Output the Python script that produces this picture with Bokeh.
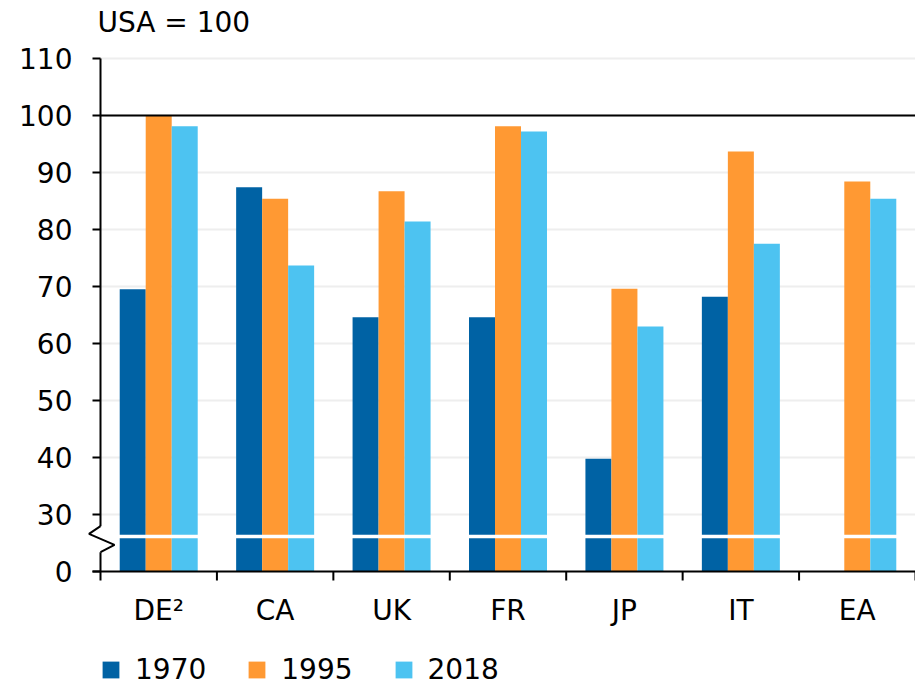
from bokeh.plotting import figure
from bokeh.models import Legend, LegendItem, ColumnDataSource, Range1d
from bokeh.transform import dodge
from bokeh.core.properties import value
from bokeh.embed import file_html
from bokeh.resources import INLINE

# ---- data ----
categories = ["DE²", "CA", "UK", "FR", "JP", "IT", "EA"]
v1970 = [69.5, 87.4, 64.6, 64.6, 39.8, 68.2, float("nan")]
v1995 = [100.0, 85.4, 86.7, 98.1, 69.6, 93.7, 88.4]
v2018 = [98.1, 73.7, 81.4, 97.2, 63.0, 77.5, 85.4]
series_names = ["1970", "1995", "2018"]
colors = ["#0062A4", "#FF9933", "#4DC3F1"]
tick_values = [0, 30, 40, 50, 60, 70, 80, 90, 100, 110]
title_text = "USA = 100"
reference_value = 100

# broken axis: 0 stays at 0, values >= 30 are shifted down by 20
BREAK_SHIFT = 20
def to_plot(v):
    return v if v == 0 else v - BREAK_SHIFT

FONT = "DejaVu Sans"
FS = "28px"

# ---- geometry (pixels -> data units) ----
W, H = 915, 688
AX_LEFT, AX_BOTTOM, AX_TOP = 100, 571, 58          # page px of axes
n = len(categories)
PX = (W - AX_LEFT) / n                               # px per category
PY = (AX_BOTTOM - AX_TOP) / to_plot(max(tick_values))  # px per y unit
def dx(px):
    return px / PX
def dy(px):
    return px / PY

p = figure(width=W, height=H,
           x_range=Range1d(-AX_LEFT / PX, n),
           y_range=Range1d(-(H - AX_BOTTOM) / PY, AX_BOTTOM / PY),
           output_backend="svg", toolbar_location=None,
           min_border=0, min_border_left=0, min_border_right=0,
           min_border_top=0, min_border_bottom=0)
p.axis.visible = False
p.grid.visible = False
p.outline_line_color = None
p.background_fill_color = "white"
p.border_fill_color = "white"

ypos = [to_plot(v) for v in tick_values]
ymax = max(ypos)

# grid lines (30..110)
p.segment(x0=0, x1=n, y0=ypos[1:], y1=ypos[1:], line_color="#EEEEEE", line_width=2)

# bars
src = ColumnDataSource(dict(
    x=[i + 0.5 for i in range(n)],
    y1970=[to_plot(v) for v in v1970],
    y1995=[to_plot(v) for v in v1995],
    y2018=[to_plot(v) for v in v2018],
))
bw = 26 / PX
offsets = [-bw, 0.0, bw]
renderers = []
for name, col, off in zip(series_names, colors, offsets):
    r = p.vbar(x=dodge("x", off), top="y" + name, bottom=0, width=bw, source=src,
               fill_color=col, line_color=None)
    renderers.append(r)

# break band through the bars
p.quad(left=dx(3), right=n, bottom=(AX_BOTTOM - 537.7) / PY, top=(AX_BOTTOM - 534.3) / PY,
       fill_color="white", line_color=None)

# reference line at 100
p.segment(x0=0, x1=n, y0=to_plot(reference_value), y1=to_plot(reference_value),
          line_color="black", line_width=2)

# y axis line with zigzag break
zig_top, zig_bot = (AX_BOTTOM - 525.7) / PY, (AX_BOTTOM - 551.7) / PY
p.segment(x0=[0, 0], x1=[0, 0], y0=[0, zig_top], y1=[zig_bot, ymax],
          line_color="black", line_width=2)
p.line(x=[0, dx(-11.5), dx(14), 0],
       y=[zig_top, (AX_BOTTOM - 533.3) / PY, (AX_BOTTOM - 544.3) / PY, zig_bot],
       line_color="black", line_width=2)
# y ticks + labels
p.segment(x0=dx(-8), x1=0, y0=ypos, y1=ypos, line_color="black", line_width=2)
p.text(x=dx(-28), y=ypos, text=[str(v) for v in tick_values],
       text_align="right", text_baseline="middle",
       text_font=value(FONT), text_font_size=FS, text_color="black")

# x axis line, boundary ticks, category labels
p.segment(x0=dx(-8), x1=n, y0=0, y1=0, line_color="black", line_width=2)
bounds = list(range(n + 1))
p.segment(x0=bounds, x1=bounds, y0=0, y1=dy(-9), line_color="black", line_width=2)
p.text(x=[i + 0.5 for i in range(n)], y=dy(-39), text=categories,
       text_align="center", text_baseline="middle",
       text_font=value(FONT), text_font_size=FS, text_color="black")

# title
p.text(x=[dx(-3)], y=[dy(AX_BOTTOM - 22)], text=[title_text],
       text_align="left", text_baseline="middle",
       text_font=value(FONT), text_font_size=FS, text_color="black")

# legend
legend = Legend(items=[LegendItem(label=nm, renderers=[r]) for nm, r in zip(series_names, renderers)],
                orientation="horizontal", location=(100, 2),
                glyph_width=21, glyph_height=21, label_standoff=14, spacing=40,
                padding=0, margin=0, border_line_color=None, background_fill_alpha=0,
                label_text_font=FONT, label_text_font_size=FS, label_text_color="black")
p.add_layout(legend)

open("out.html", "w").write(file_html(p, INLINE))
